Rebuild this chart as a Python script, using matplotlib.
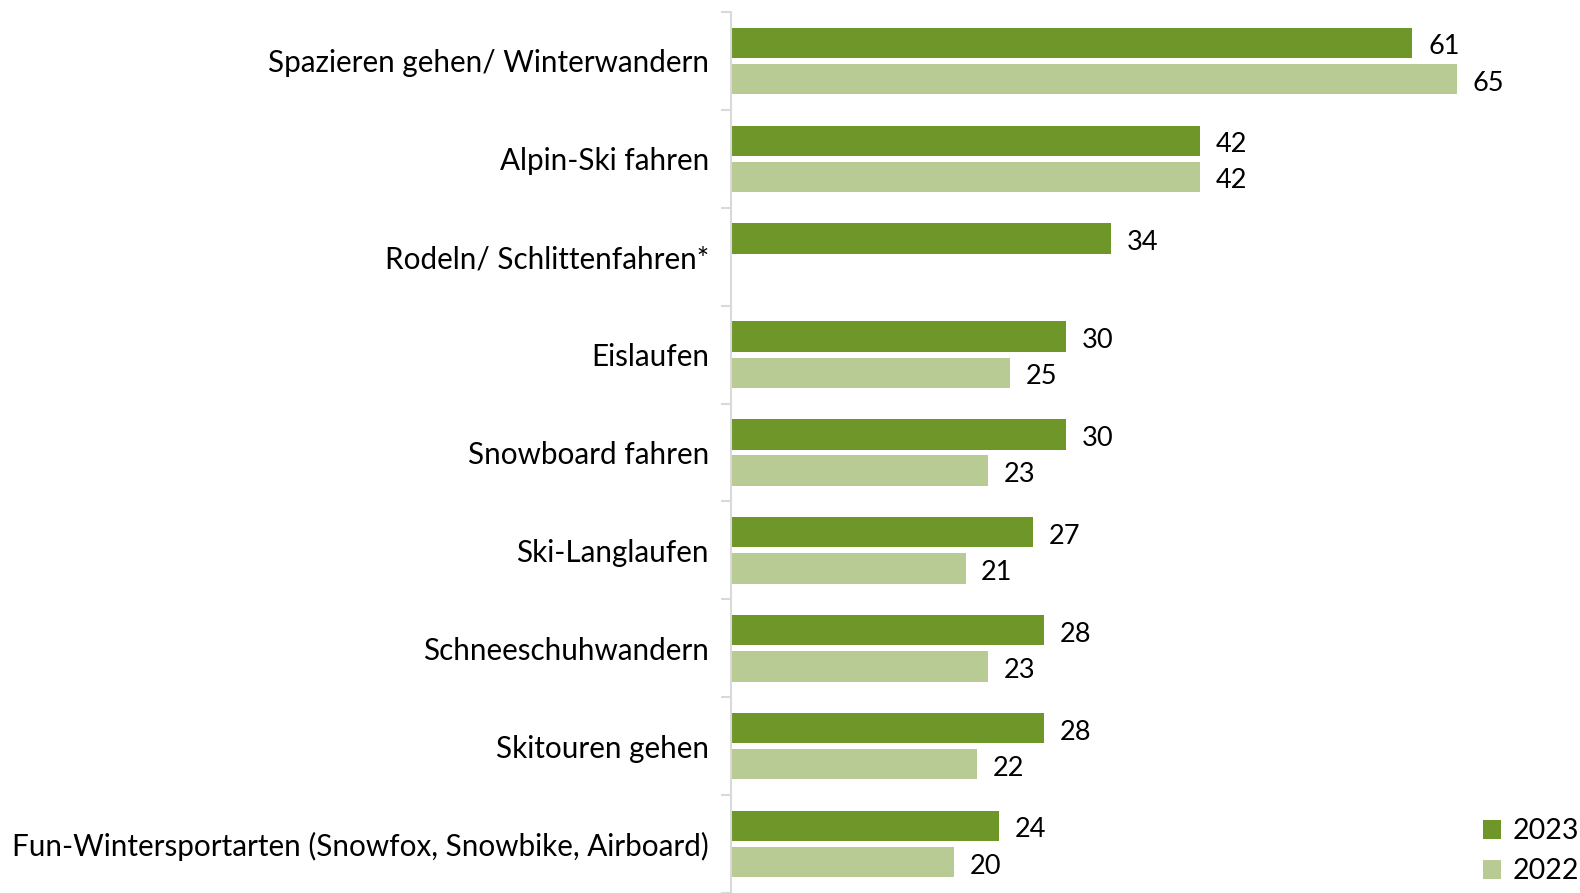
import matplotlib
matplotlib.use("Agg")
import matplotlib.pyplot as plt
from matplotlib.patches import Patch

categories = [
    "Spazieren gehen/ Winterwandern",
    "Alpin-Ski fahren",
    "Rodeln/ Schlittenfahren*",
    "Eislaufen",
    "Snowboard fahren",
    "Ski-Langlaufen",
    "Schneeschuhwandern",
    "Skitouren gehen",
    "Fun-Wintersportarten (Snowfox, Snowbike, Airboard)",
]
values_2023 = [61, 42, 34, 30, 30, 27, 28, 28, 24]
values_2022 = [65, 42, None, 25, 23, 21, 23, 22, 20]
series_labels = ["2023", "2022"]

DARK = "#6E9628"
LIGHT = "#B9CB94"
AXIS_GRAY = "#D9D9D9"
FONT = "Lato"
FS_CAT = 21.3
FS_VAL = 19.5

plt.rcParams["font.family"] = [FONT, "DejaVu Sans"]

fig = plt.figure(figsize=(15.8, 8.93), dpi=100)
ax = fig.add_axes([731 / 1580, 0.0, 1 - 731 / 1580, 1 - 12 / 893])

bar_h = 0.31
off = 0.185
ys = list(range(len(categories)))

for y, v in zip(ys, values_2023):
    ax.barh(y - off, v, height=bar_h, color=DARK, edgecolor="none")
    ax.text(v + 1.4, y - off + 0.015, str(v), va="center_baseline", ha="left", fontsize=FS_VAL)
for y, v in zip(ys, values_2022):
    if v is None:
        continue
    ax.barh(y + off, v, height=bar_h, color=LIGHT, edgecolor="none")
    ax.text(v + 1.4, y + off + 0.015, str(v), va="center_baseline", ha="left", fontsize=FS_VAL)

ax.set_xlim(0, 76)
ax.set_ylim(len(categories) - 0.5, -0.5)

for s in ["top", "right", "bottom"]:
    ax.spines[s].set_visible(False)
ax.spines["left"].set_color(AXIS_GRAY)
ax.spines["left"].set_linewidth(1.5)
ax.set_xticks([])

ax.set_yticks(ys)
ax.set_yticklabels(categories, fontsize=FS_CAT)
ax.tick_params(axis="y", which="major", length=0, pad=16)
ax.set_yticks([y - 0.5 for y in range(len(categories) + 1)], minor=True)
ax.tick_params(axis="y", which="minor", length=7, width=1.5, color=AXIS_GRAY)

handles = [Patch(facecolor=DARK, edgecolor="none"), Patch(facecolor=LIGHT, edgecolor="none")]
fig.legend(handles, series_labels, loc="lower right", bbox_to_anchor=(1.005, 0.0),
           frameon=False, fontsize=20.5, handlelength=0.65, handleheight=0.65,
           handletextpad=0.4, labelspacing=0.5, borderpad=0.2, borderaxespad=0.1)

fig.savefig("out.png", dpi=100)
